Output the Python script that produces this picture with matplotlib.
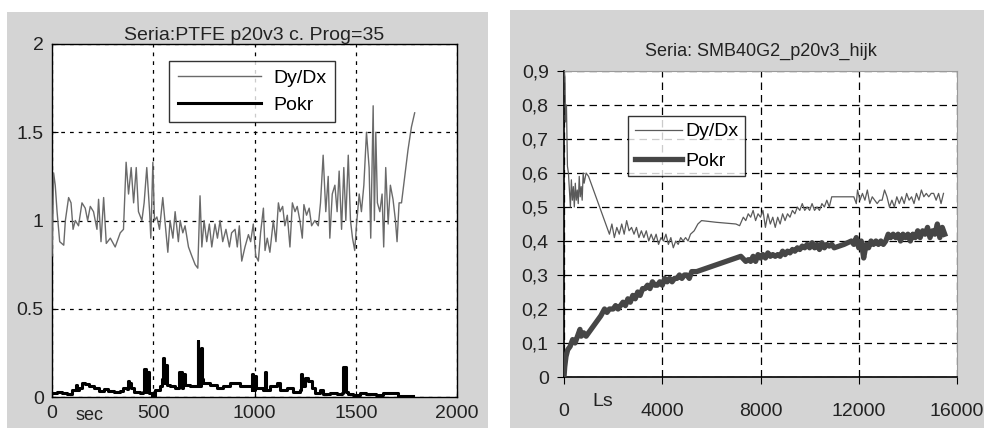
import matplotlib
matplotlib.use("Agg")
import matplotlib.pyplot as plt
from matplotlib.patches import Rectangle

plt.rcParams['font.family'] = ['Liberation Sans', 'DejaVu Sans']

# ---------------- left chart data ----------------
left_title = "Seria:PTFE p20v3 c. Prog=35"
left_dydx_x = [0, 8, 16, 25, 38, 58, 66, 82, 94, 104, 115, 131, 148, 164, 176, 189, 205, 222, 230,
               242, 255, 268, 288, 312, 337, 353, 366, 378, 391, 403, 416, 427, 444, 455, 468, 482,
               488, 498, 506, 518, 531, 547, 559, 572, 583, 597, 608, 624, 633, 646, 657, 674, 690,
               707, 720, 731, 740, 751, 764, 777, 789, 805, 817, 830, 843, 859, 876, 887, 904, 915,
               925, 937, 953, 970, 981, 994, 1006, 1019, 1030, 1044, 1052, 1063, 1076, 1093, 1106,
               1118, 1126, 1139, 1150, 1162, 1175, 1187, 1200, 1211, 1224, 1236, 1244, 1257, 1270,
               1282, 1298, 1315, 1326, 1339, 1352, 1364, 1372, 1384, 1397, 1408, 1418, 1430, 1441,
               1451, 1463, 1474, 1484, 1495, 1504, 1517, 1528, 1540, 1553, 1566, 1574, 1586, 1592,
               1599, 1607, 1619, 1630, 1638, 1648, 1660, 1671, 1684, 1696, 1704, 1714, 1726, 1742,
               1758, 1775, 1791]
left_dydx_y = [0.80, 1.27, 1.20, 1.05, 0.88, 0.86, 1.00, 1.13, 1.10, 0.95, 1.00, 0.97, 1.10, 1.07,
               1.00, 1.08, 1.05, 0.95, 1.12, 0.88, 1.13, 0.87, 0.90, 0.85, 0.93, 0.95, 1.33, 1.15,
               1.30, 1.10, 1.30, 1.05, 1.00, 1.10, 1.30, 1.05, 0.90, 1.33, 1.00, 1.02, 0.95, 1.13,
               0.98, 0.82, 1.00, 0.90, 1.05, 0.88, 1.00, 0.93, 0.97, 0.85, 0.80, 0.75, 0.73, 1.14,
               0.85, 1.00, 0.88, 0.98, 0.85, 0.98, 0.90, 1.00, 0.88, 0.95, 0.85, 0.93, 0.95, 0.85,
               0.97, 0.77, 0.85, 0.92, 0.88, 0.98, 0.80, 0.77, 0.93, 1.07, 0.83, 0.90, 0.82, 1.00,
               0.88, 1.10, 1.05, 1.08, 0.97, 1.03, 0.85, 1.10, 1.05, 1.08, 1.00, 0.90, 1.09, 1.03,
               1.07, 0.97, 1.00, 0.97, 1.10, 1.37, 1.05, 1.25, 0.90, 1.15, 1.20, 1.05, 1.28, 0.95,
               1.30, 1.00, 1.37, 1.00, 0.90, 0.83, 0.98, 1.15, 1.05, 1.20, 1.50, 1.30, 0.90, 1.65,
               1.00, 1.50, 1.10, 1.05, 1.15, 0.85, 1.30, 0.98, 1.20, 1.12, 1.00, 0.88, 1.10, 1.10,
               1.25, 1.40, 1.53, 1.61]

left_pokr_x = [0, 8, 25, 49, 74, 99, 120, 125, 131, 148, 164, 181, 205, 230, 255, 279, 304, 337, 353,
               370, 375, 378, 389, 403, 435, 450, 455, 462, 468, 477, 493, 509, 534, 542, 547, 553,
               559, 567, 583, 608, 625, 629, 640, 646, 657, 682, 715, 720, 723, 735, 740, 748, 781,
               813, 846, 879, 912, 929, 961, 986, 990, 994, 1000, 1007, 1044, 1050, 1057, 1076,
               1109, 1126, 1159, 1191, 1224, 1228, 1233, 1249, 1265, 1282, 1298, 1323, 1339, 1372,
               1405, 1430, 1438, 1450, 1463, 1487, 1520, 1553, 1602, 1635, 1684, 1709, 1783]
left_pokr_y = [0.02, 0.02, 0.03, 0.025, 0.015, 0.04, 0.07, 0.04, 0.05, 0.08, 0.075, 0.06, 0.05,
               0.035, 0.045, 0.035, 0.03, 0.035, 0.05, 0.045, 0.09, 0.08, 0.05, 0.03, 0.025, 0.03,
               0.16, 0.03, 0.14, 0.02, 0.0, 0.04, 0.06, 0.10, 0.22, 0.08, 0.18, 0.07, 0.06, 0.05,
               0.06, 0.14, 0.05, 0.13, 0.07, 0.065, 0.06, 0.32, 0.06, 0.28, 0.10, 0.08, 0.07, 0.05,
               0.06, 0.08, 0.08, 0.06, 0.06, 0.04, 0.13, 0.04, 0.12, 0.05, 0.04, 0.14, 0.04, 0.06,
               0.08, 0.04, 0.05, 0.03, 0.04, 0.13, 0.06, 0.11, 0.09, 0.05, 0.02, 0.04, 0.015, 0.02,
               0.015, 0.02, 0.17, 0.03, 0.015, 0.01, 0.02, 0.015, 0.01, 0.02, 0.02, 0.005, 0.005]

left_xticks = [0, 500, 1000, 1500, 2000]
left_xticklabels = ["0", "500", "1000", "1500", "2000"]
left_yticks = [0, 0.5, 1, 1.5, 2]
left_yticklabels = ["0", "0.5", "1", "1.5", "2"]
left_xunit = "sec"

# ---------------- right chart data ----------------
right_title = "Seria: SMB40G2_p20v3_hijk"
right_dydx = [
    (0, 0.90), (40, 0.88), (60, 0.75), (100, 0.80), (140, 0.62), (180, 0.60), (220, 0.55),
    (260, 0.50), (300, 0.58), (340, 0.52), (380, 0.56), (420, 0.50), (460, 0.57), (500, 0.52),
    (540, 0.55), (580, 0.51), (620, 0.59), (660, 0.53), (700, 0.56), (740, 0.52), (780, 0.60),
    (820, 0.57), (900, 0.60), (1000, 0.59), (1100, 0.57), (1300, 0.53), (1500, 0.49),
    (1700, 0.45), (1850, 0.42), (1950, 0.45), (2050, 0.41), (2150, 0.44), (2250, 0.42),
    (2350, 0.45), (2450, 0.42), (2550, 0.46), (2650, 0.43), (2750, 0.44), (2850, 0.42),
    (2950, 0.44), (3050, 0.41), (3150, 0.43), (3250, 0.41), (3350, 0.43), (3450, 0.40),
    (3550, 0.42), (3650, 0.40), (3750, 0.42), (3850, 0.39), (3950, 0.41), (4050, 0.40),
    (4150, 0.42), (4250, 0.39), (4350, 0.41), (4450, 0.38), (4550, 0.40), (4650, 0.39),
    (4750, 0.41), (4850, 0.40), (4950, 0.41), (5050, 0.40), (5150, 0.42), (5300, 0.43),
    (5450, 0.45), (5600, 0.46), (6200, 0.455), (7000, 0.45), (7150, 0.445), (7300, 0.47),
    (7400, 0.46), (7500, 0.48), (7600, 0.47), (7700, 0.49), (7800, 0.46), (7900, 0.48),
    (8000, 0.47), (8100, 0.49), (8200, 0.44), (8300, 0.48), (8400, 0.45), (8500, 0.47),
    (8600, 0.44), (8700, 0.47), (8800, 0.45), (8900, 0.48), (9000, 0.46), (9100, 0.48),
    (9200, 0.47), (9300, 0.49), (9400, 0.48), (9500, 0.50), (9600, 0.49), (9700, 0.51),
    (9800, 0.49), (9900, 0.50), (10000, 0.49), (10100, 0.51), (10200, 0.49), (10300, 0.50),
    (10400, 0.49), (10500, 0.51), (10600, 0.50), (10700, 0.52), (10800, 0.50), (10900, 0.53),
    (11000, 0.53), (11800, 0.53), (11900, 0.51), (11950, 0.55), (12050, 0.52), (12150, 0.54),
    (12250, 0.52), (12350, 0.55), (12450, 0.51), (12550, 0.53), (12650, 0.52), (12750, 0.51),
    (12850, 0.52), (12950, 0.52), (13050, 0.55), (13150, 0.53), (13250, 0.50), (13350, 0.52),
    (13450, 0.50), (13550, 0.53), (13650, 0.51), (13750, 0.53), (13850, 0.51), (13950, 0.54),
    (14050, 0.52), (14150, 0.53), (14250, 0.51), (14350, 0.54), (14450, 0.52), (14550, 0.55),
    (14650, 0.53), (14750, 0.54), (14850, 0.53), (14950, 0.54), (15050, 0.54), (15150, 0.52),
    (15250, 0.54), (15350, 0.51), (15450, 0.54)]
right_pokr = [
    (0, 0.00), (30, 0.03), (80, 0.06), (150, 0.08), (250, 0.09), (350, 0.11), (450, 0.10),
    (550, 0.12), (650, 0.14), (700, 0.12), (800, 0.13), (900, 0.12), (1000, 0.13), (1100, 0.14),
    (1300, 0.16), (1500, 0.18), (1650, 0.20), (1750, 0.19), (1850, 0.20), (2000, 0.20),
    (2100, 0.21), (2200, 0.20), (2300, 0.21), (2400, 0.22), (2500, 0.21), (2600, 0.23),
    (2700, 0.22), (2800, 0.24), (2900, 0.23), (3000, 0.25), (3100, 0.24), (3200, 0.26),
    (3300, 0.26), (3400, 0.27), (3500, 0.26), (3600, 0.28), (3700, 0.27), (3800, 0.27),
    (3900, 0.28), (4000, 0.27), (4100, 0.29), (4200, 0.28), (4300, 0.29), (4400, 0.28),
    (4500, 0.29), (4600, 0.29), (4700, 0.30), (4800, 0.29), (4900, 0.30), (5000, 0.30),
    (5100, 0.29), (5200, 0.31), (5400, 0.31), (5800, 0.32), (6200, 0.33), (6600, 0.34),
    (7000, 0.35), (7200, 0.355), (7400, 0.34), (7500, 0.345), (7600, 0.34), (7700, 0.355),
    (7800, 0.34), (7900, 0.36), (8000, 0.35), (8100, 0.36), (8200, 0.35), (8300, 0.365),
    (8400, 0.355), (8500, 0.36), (8600, 0.355), (8700, 0.36), (8800, 0.355), (8900, 0.37),
    (9000, 0.36), (9100, 0.37), (9200, 0.365), (9300, 0.375), (9400, 0.37), (9500, 0.38),
    (9600, 0.375), (9700, 0.385), (9800, 0.38), (9900, 0.39), (10000, 0.38), (10100, 0.395),
    (10200, 0.38), (10300, 0.39), (10400, 0.375), (10500, 0.395), (10600, 0.38), (10700, 0.39),
    (10800, 0.385), (10900, 0.39), (11000, 0.38), (11200, 0.385), (11400, 0.39), (11700, 0.40),
    (11800, 0.39), (11900, 0.41), (12000, 0.38), (12100, 0.40), (12200, 0.35), (12300, 0.39),
    (12400, 0.38), (12500, 0.40), (12600, 0.39), (12700, 0.40), (12800, 0.39), (12900, 0.40),
    (13000, 0.39), (13100, 0.40), (13200, 0.42), (13300, 0.41), (13400, 0.42), (13500, 0.41),
    (13600, 0.42), (13700, 0.40), (13800, 0.42), (13900, 0.41), (14000, 0.42), (14100, 0.40),
    (14200, 0.42), (14300, 0.41), (14400, 0.43), (14500, 0.41), (14600, 0.43), (14700, 0.42),
    (14800, 0.44), (14900, 0.41), (15000, 0.43), (15100, 0.42), (15200, 0.45), (15300, 0.41),
    (15400, 0.44), (15500, 0.42)]
right_xticks = [0, 4000, 8000, 12000, 16000]
right_xticklabels = ["0", "4000", "8000", "12000", "16000"]
right_yticks = [0, 0.1, 0.2, 0.3, 0.4, 0.5, 0.6, 0.7, 0.8, 0.9]
right_yticklabels = ["0", "0,1", "0,2", "0,3", "0,4", "0,5", "0,6", "0,7", "0,8", "0,9"]
right_xunit = "Ls"
series_names = ["Dy/Dx", "Pokr"]

W, H = 984, 428
fig = plt.figure(figsize=(W / 100, H / 100), dpi=100)
fig.patch.set_facecolor("white")
BG = "#d4d4d4"
TXT = "#222222"

# panel backgrounds (drawn beneath the axes)
fig.add_artist(Rectangle((7 / W, 0), (488 - 7) / W, 1 - 12 / H, transform=fig.transFigure,
                         facecolor=BG, edgecolor="none", zorder=-10))
fig.add_artist(Rectangle((510 / W, 0), (984 - 510) / W, 1 - 10 / H, transform=fig.transFigure,
                         facecolor=BG, edgecolor="none", zorder=-10))

# ---------------- left axes ----------------
axL = fig.add_axes([52 / W, 1 - 397 / H, (457 - 52) / W, (397 - 44) / H])
axL.set_facecolor("white")
axL.plot(left_dydx_x, left_dydx_y, color="#6a6a6a", lw=1.0, label=series_names[0], zorder=3)
axL.plot(left_pokr_x, left_pokr_y, color="black", lw=2.2, label=series_names[1],
         drawstyle="steps-post", zorder=4)
axL.set_xlim(0, 2000)
axL.set_ylim(0, 2)
axL.set_xticks(left_xticks)
axL.set_xticklabels(left_xticklabels)
axL.set_yticks(left_yticks)
axL.set_yticklabels(left_yticklabels)
axL.tick_params(direction="in", length=4, labelsize=14, colors="black", labelcolor=TXT, pad=6)
axL.grid(True, color="black", linestyle=(0, (3, 4)), lw=0.9)
for s in axL.spines.values():
    s.set_color("black")
    s.set_linewidth(1.0)
axL.set_title(left_title, fontsize=14, color=TXT, pad=1)
axL.text(90 / W, 1 - 415 / H, left_xunit, transform=fig.transFigure, ha="center", va="center",
         fontsize=13, color=TXT)
legL = axL.legend(loc="upper left", bbox_to_anchor=(0.289, 0.952), fontsize=14,
                  frameon=True, fancybox=False, edgecolor="black", handlelength=4.3,
                  borderpad=0.45, labelspacing=0.45, handletextpad=0.6, borderaxespad=0)
legL.get_frame().set_linewidth(1.0)

# ---------------- right axes ----------------
axR = fig.add_axes([564 / W, 1 - 377 / H, (957 - 564) / W, (377 - 71) / H])
axR.set_facecolor("white")
rdx = [p[0] for p in right_dydx]
rdy = [p[1] for p in right_dydx]
rpx = [p[0] for p in right_pokr]
rpy = [p[1] for p in right_pokr]
axR.plot(rdx, rdy, color="#5a5a5a", lw=0.9, label=series_names[0], zorder=3)
axR.plot(rpx, rpy, color="#464646", lw=3.8, label=series_names[1], zorder=4)
axR.set_xlim(0, 16000)
axR.set_ylim(0, 0.9)
axR.set_xticks(right_xticks)
axR.set_xticklabels(right_xticklabels)
axR.set_yticks(right_yticks)
axR.set_yticklabels(right_yticklabels)
axR.tick_params(direction="out", length=5, labelsize=14, colors="black", labelcolor=TXT)
axR.tick_params(axis="x", pad=14)
axR.tick_params(axis="y", pad=6)
axR.grid(True, color="black", linestyle=(0, (6, 4)), lw=0.9)
for k in ["top", "right"]:
    axR.spines[k].set_color("#9a9a9a")
for k in ["left", "bottom"]:
    axR.spines[k].set_color("black")
    axR.spines[k].set_linewidth(1.2)
axR.set_title(right_title, fontsize=13, color=TXT, pad=11)
axR.text(603 / W, 1 - 402 / H, right_xunit, transform=fig.transFigure, ha="center", va="center",
         fontsize=14, color=TXT)
legR = axR.legend(loc="upper left", bbox_to_anchor=(0.163, 0.853), fontsize=14,
                  frameon=True, fancybox=False, edgecolor="black", handlelength=2.4,
                  borderpad=0.35, labelspacing=0.6, handletextpad=0.2, borderaxespad=0)
legR.get_frame().set_linewidth(1.0)

fig.savefig("out.png", dpi=100, facecolor="white")
